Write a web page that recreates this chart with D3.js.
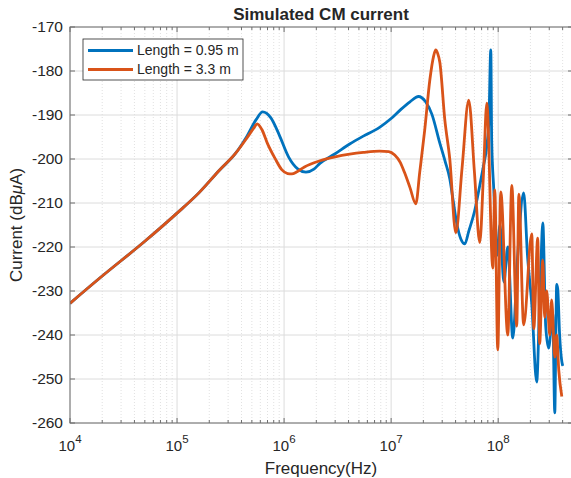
<!DOCTYPE html>
<html>
<head>
<meta charset="utf-8">
<script src="https://cdn.jsdelivr.net/npm/d3@7"></script>
<style>
  body { margin: 0; background: #fff; }
  text { font-family: "Liberation Sans", Arial, sans-serif; fill: #262626; }
</style>
</head>
<body>
<div id="chart"></div>
<script>
// values (frequency in Hz, current in dBuA)
const freqShort = [1e4, 2e4, 5e4, 1e5, 1.6e5, 2.5e5, 3.5e5, 4.5e5, 5.5e5, 6.3e5, 7.5e5, 9e5, 1.1e6, 1.35e6, 1.6e6, 1.9e6,
  2.16e6, 3e6, 4.1e6, 5.5e6, 7.8e6, 1e7, 1.2e7, 1.5e7, 1.8e7, 2.1e7, 2.4e7, 2.85e7, 3.2e7, 3.53e7, 3.8e7, 4.1e7, 4.5e7, 4.88e7, 5.3e7,
  6e7, 6.73e7, 7.3e7, 7.83e7, 8.2e7, 8.53e7, 8.7e7, 9.1e7, 9.7e7, 1.04e8, 1.13e8, 1.23e8, 1.37e8, 1.52e8, 1.73e8, 1.88e8, 2.06e8,
  2.29e8, 2.44e8, 2.5e8, 2.61e8, 2.78e8, 2.96e8, 3.23e8, 3.38e8, 3.45e8, 3.52e8, 3.6e8, 3.75e8, 3.93e8, 4.01e8];
const valShort = [-232.8, -226.6, -218.7, -212.3, -207.7, -202.5, -198.8, -194.8, -191.0, -189.3, -190.6, -194.5, -199.5, -202.3, -203.0, -202.3,
  -201.0, -198.8, -196.6, -194.8, -192.8, -190.8, -189.0, -187.0, -185.8, -187.0, -189.8, -196.4, -200.6, -204.5, -209.5, -214.6, -218.3, -219.3, -216.5,
  -212.0, -206.0, -201.5, -197.0, -191.0, -175.2, -196.0, -207.0, -222.0, -215.0, -228.0, -220.0, -240.7, -222.0, -207.7, -222.0, -233.0,
  -250.7, -232.0, -225.0, -214.5, -238.0, -243.0, -235.0, -257.7, -242.0, -228.5, -229.5, -240.0, -246.0, -247.0];

const freqLong = [1e4, 2e4, 5e4, 1e5, 1.6e5, 2.5e5, 3.5e5, 4.5e5, 5.2e5, 5.6e5, 6.2e5, 7e5, 8.2e5, 9.5e5, 1.08e6, 1.18e6, 1.32e6, 1.55e6,
  2.16e6, 3e6, 4.1e6, 5.5e6, 7.8e6, 9.5e6, 1.08e7, 1.22e7, 1.34e7, 1.5e7, 1.7e7, 1.85e7, 2.06e7, 2.3e7, 2.5e7, 2.61e7, 2.72e7, 2.85e7, 3.17e7,
  3.53e7, 4.02e7, 4.6e7, 5.31e7, 6e7, 6.73e7, 7.3e7, 7.83e7, 8.91e7, 9.3e7, 9.91e7, 1.057e8, 1.23e8, 1.34e8, 1.49e8, 1.56e8, 1.73e8,
  2.06e8, 2.15e8, 2.34e8, 2.44e8, 2.61e8, 2.72e8, 2.84e8, 3.03e8, 3.16e8, 3.38e8, 3.52e8, 3.68e8, 3.93e8];
const valLong = [-232.8, -226.6, -218.7, -212.3, -207.7, -202.5, -198.8, -195.2, -193.0, -192.0, -193.3, -196.5, -199.8, -202.4, -203.3, -203.4, -202.9, -201.8,
  -200.4, -199.5, -198.9, -198.5, -198.2, -198.3, -199.1, -200.8, -203.2, -206.5, -210.2, -203.0, -193.4, -182.0, -176.5, -175.2, -176.0, -178.0, -191.0,
  -200.0, -216.8, -202.0, -186.6, -203.0, -219.0, -203.0, -187.3, -224.8, -207.0, -243.4, -207.5, -240.0, -206.0, -238.0, -208.0, -237.7,
  -217.0, -238.6, -218.0, -242.0, -223.0, -236.0, -230.0, -240.0, -232.0, -245.0, -240.0, -248.0, -254.0];

const seriesNames = ["Length = 0.95 m", "Length = 3.3 m"];
const seriesColors = ["#0072BD", "#D95319"];
const yTicks = [-260, -250, -240, -230, -220, -210, -200, -190, -180, -170];
const xDecades = [4, 5, 6, 7, 8];

const W = 571, H = 478;
const m = { left: 70, top: 27, right: 573, bottom: 423 };

const svg = d3.select("#chart").append("svg")
  .attr("width", W).attr("height", H);

const x = d3.scaleLog().domain([1e4, 5e8]).range([m.left, m.right]);
const y = d3.scaleLinear().domain([-260, -170]).range([m.bottom, m.top]);

// minor grid (dotted) at 2..9 x each decade
const minors = [];
xDecades.forEach(d => { for (let k = 2; k <= 9; k++) { const f = k * Math.pow(10, d); if (f < 5e8) minors.push(f); } });

svg.append("g").selectAll("line").data(minors).join("line")
  .attr("x1", d => x(d)).attr("x2", d => x(d))
  .attr("y1", m.top).attr("y2", m.bottom)
  .attr("stroke", "#d4d4d4").attr("stroke-width", 0.7).attr("stroke-dasharray", "1,2");

// major grid
svg.append("g").selectAll("line").data(xDecades.map(d => Math.pow(10, d))).join("line")
  .attr("x1", d => x(d)).attr("x2", d => x(d))
  .attr("y1", m.top).attr("y2", m.bottom)
  .attr("stroke", "#dcdcdc").attr("stroke-width", 1);

svg.append("g").selectAll("line").data(yTicks).join("line")
  .attr("x1", m.left).attr("x2", m.right)
  .attr("y1", d => y(d)).attr("y2", d => y(d))
  .attr("stroke", "#dcdcdc").attr("stroke-width", 1);

// curves
svg.append("clipPath").attr("id", "plotclip").append("rect")
  .attr("x", m.left).attr("y", m.top)
  .attr("width", m.right - m.left).attr("height", m.bottom - m.top);

const line = d3.line()
  .x(d => x(d[0])).y(d => y(d[1]))
  .curve(d3.curveMonotoneX);

const series = [d3.zip(freqShort, valShort), d3.zip(freqLong, valLong)];

svg.append("g").attr("clip-path", "url(#plotclip)")
  .selectAll("path").data(series).join("path")
  .attr("d", line)
  .attr("fill", "none")
  .attr("stroke", (d, i) => seriesColors[i])
  .attr("stroke-width", 2.8)
  .attr("stroke-linejoin", "round");

// axes box and ticks
const axisColor = "#6e6e6e";
svg.append("rect")
  .attr("x", m.left).attr("y", m.top)
  .attr("width", m.right - m.left).attr("height", m.bottom - m.top)
  .attr("fill", "none").attr("stroke", axisColor).attr("stroke-width", 1);

const ticks = svg.append("g").attr("stroke", axisColor).attr("stroke-width", 1);
xDecades.forEach(d => {
  const px = x(Math.pow(10, d));
  ticks.append("line").attr("x1", px).attr("x2", px).attr("y1", m.bottom).attr("y2", m.bottom - 5);
  ticks.append("line").attr("x1", px).attr("x2", px).attr("y1", m.top).attr("y2", m.top + 5);
});
minors.forEach(f => {
  const px = x(f);
  ticks.append("line").attr("x1", px).attr("x2", px).attr("y1", m.bottom).attr("y2", m.bottom - 3);
  ticks.append("line").attr("x1", px).attr("x2", px).attr("y1", m.top).attr("y2", m.top + 3);
});
yTicks.forEach(v => {
  ticks.append("line").attr("x1", m.left).attr("x2", m.left + 5).attr("y1", y(v)).attr("y2", y(v));
  ticks.append("line").attr("x1", m.right - 5).attr("x2", m.right).attr("y1", y(v)).attr("y2", y(v));
});

// tick labels
svg.append("g").selectAll("text").data(yTicks).join("text")
  .attr("x", 63).attr("y", d => y(d)).attr("dy", "0.35em")
  .attr("text-anchor", "end").attr("font-size", "15.5px")
  .text(d => d);

const xl = svg.append("g").selectAll("text").data(xDecades).join("text")
  .attr("x", d => x(Math.pow(10, d))).attr("y", 451)
  .attr("text-anchor", "middle").attr("font-size", "15px");
xl.append("tspan").text("10");
xl.append("tspan").attr("dy", -8).attr("font-size", "11.5px").text(d => d);

// titles
svg.append("text").attr("x", 321).attr("y", 20)
  .attr("text-anchor", "middle").attr("font-size", "17px").attr("font-weight", "bold")
  .text("Simulated CM current");

svg.append("text").attr("x", 321).attr("y", 474)
  .attr("text-anchor", "middle").attr("font-size", "17px")
  .text("Frequency(Hz)");

const yl = svg.append("text")
  .attr("transform", `translate(22,${(m.top + m.bottom) / 2}) rotate(-90)`)
  .attr("text-anchor", "middle").attr("font-size", "17px");
yl.append("tspan").text("Current (dB");
yl.append("tspan").attr("font-style", "italic").text("\u03bc");
yl.append("tspan").text("A)");

// legend
const lg = svg.append("g");
lg.append("rect").attr("x", 83).attr("y", 39).attr("width", 160).attr("height", 41)
  .attr("fill", "#fff").attr("stroke", "#262626").attr("stroke-width", 0.8);
seriesNames.forEach((name, i) => {
  const ly = 50.5 + i * 19;
  lg.append("line").attr("x1", 88).attr("x2", 133).attr("y1", ly).attr("y2", ly)
    .attr("stroke", seriesColors[i]).attr("stroke-width", 2.8);
  lg.append("text").attr("x", 137).attr("y", ly).attr("dy", "0.35em")
    .attr("font-size", "14px").text(name);
});
</script>
</body>
</html>
